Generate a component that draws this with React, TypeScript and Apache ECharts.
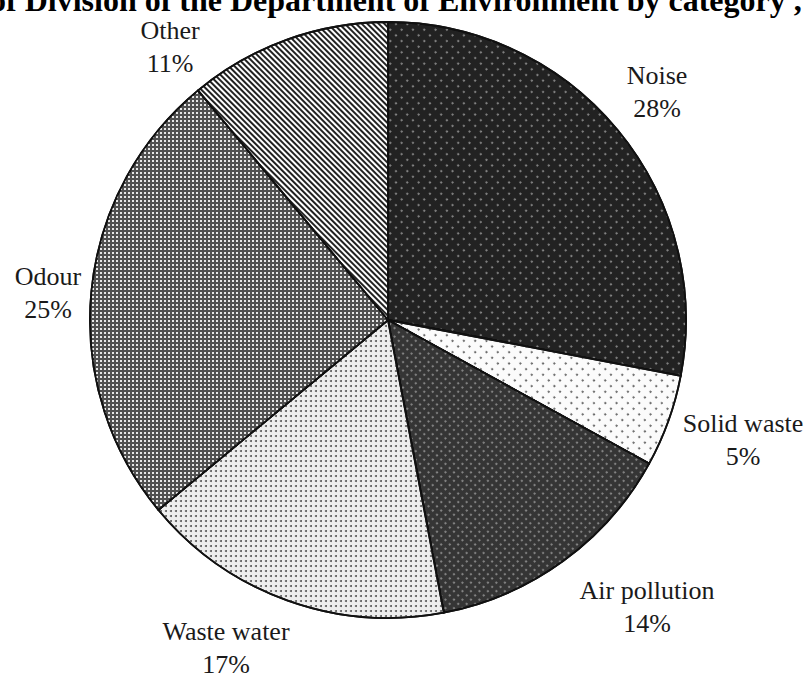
import React, { useEffect, useRef } from "react";
import * as echarts from "echarts";

const categories = ["Noise", "Solid waste", "Air pollution", "Waste water", "Odour", "Other"];
const shares = [28, 5, 14, 17, 25, 11];
const titleText = "of Division of the Department of Environment by category ,";

// label block centres (page px)
const labelCentres: number[][] = [
  [657, 92],
  [743, 440],
  [647, 607],
  [226, 648],
  [48, 293],
  [170, 47],
];

const fills = ["#222222", "#fbfbfb", "#353535", "#eeeeee", "#505050", "#ffffff"];
const decals: any[] = [
  { symbol: "circle", symbolSize: 1, color: "rgba(255,255,255,0.5)", dashArrayX: [1.6, 5.4], dashArrayY: [1.6, 5.4], rotation: Math.PI / 4 },
  { symbol: "circle", symbolSize: 1, color: "#555555", dashArrayX: [1.6, 5.4], dashArrayY: [1.6, 5.4], rotation: Math.PI / 4 },
  { symbol: "circle", symbolSize: 1, color: "rgba(255,255,255,0.45)", dashArrayX: [1.5, 3.5], dashArrayY: [1.5, 3.5], rotation: Math.PI / 4 },
  { symbol: "circle", symbolSize: 1, color: "#5a5a5a", dashArrayX: [1.6, 2.4], dashArrayY: [1.6, 2.4], rotation: 0 },
  { symbol: "rect", symbolSize: 1, color: "#e6e6e6", dashArrayX: [2, 2], dashArrayY: [2, 2], rotation: 0 },
  { symbol: "rect", symbolSize: 1, color: "#222222", dashArrayX: [1, 0], dashArrayY: [1.2, 2], rotation: Math.PI / 4 },
];

export default function App() {
  const ref = useRef<HTMLDivElement>(null);
  useEffect(() => {
    if (!ref.current) return;
    const chart = echarts.init(ref.current, null, { renderer: "svg" });
    chart.setOption({
      animation: false,
      backgroundColor: "#ffffff",
      graphic: [
        {
          type: "text",
          x: -10,
          y: -10,
          style: {
            text: titleText,
            font: 'bold 32px "Liberation Serif"',
            lineHeight: 20,
            fill: "#000000",
            align: "left",
            verticalAlign: "top",
          },
        },
      ],
      series: [
        {
          type: "pie",
          center: [388, 320],
          radius: 298,
          startAngle: 90,
          clockwise: true,
          avoidLabelOverlap: false,
          itemStyle: { borderColor: "#111111", borderWidth: 1.8 },
          label: {
            show: true,
            position: "outside",
            formatter: "{b}\n{c}%",
            fontFamily: '"Liberation Serif"',
            fontSize: 26,
            lineHeight: 33,
            color: "#1a1a1a",
            align: "center",
          },
          labelLine: { show: false },
          labelLayout: (params: any) => {
            const p = labelCentres[params.dataIndex];
            return { x: p[0], y: p[1], align: "center", verticalAlign: "middle" };
          },
          emphasis: { disabled: true },
          data: categories.map((name, i) => ({
            name,
            value: shares[i],
            itemStyle: { color: fills[i], decal: decals[i] },
          })),
        },
      ],
    });
    return () => chart.dispose();
  }, []);
  return (
    <div
      ref={ref}
      style={{ position: "fixed", left: 0, top: 0, width: 808, height: 678 }}
    />
  );
}
